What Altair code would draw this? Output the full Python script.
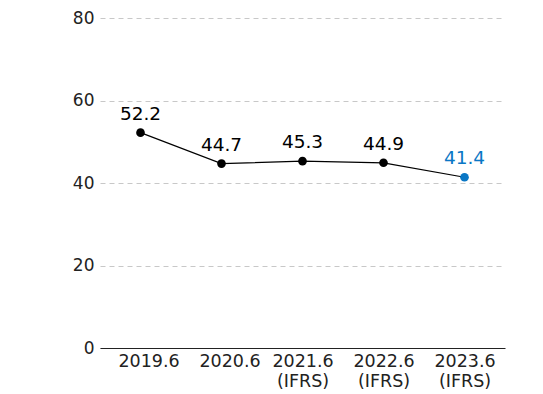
import altair as alt
import pandas as pd

periods = ["2019.6", "2020.6", "2021.6 (IFRS)", "2022.6 (IFRS)", "2023.6 (IFRS)"]
values = [52.2, 44.7, 45.3, 44.9, 41.4]
y_ticks = [0, 20, 40, 60, 80]

df = pd.DataFrame({"period": periods, "value": values})
FONT = "DejaVu Sans"
BLUE = "#0a77c5"

x = alt.X("period:N", sort=periods, title=None,
          scale=alt.Scale(paddingInner=0, paddingOuter=0),
          axis=alt.Axis(labelExpr="split(datum.value, ' ')", labelAngle=0,
                        labelFontSize=17.5, labelColor="#222", labelFont=FONT,
                        labelOffset=alt.ExprRef("indexof(datum.value, ' ') < 0 ? 8 : 0"),
                        labelPadding=4, labelLineHeight=20, ticks=False,
                        domainColor="#222", domainWidth=1.2, grid=False))
y = alt.Y("value:Q", title=None,
          scale=alt.Scale(domain=[0, 80]),
          axis=alt.Axis(values=y_ticks, labelFontSize=17, labelColor="#222", labelFont=FONT,
                        labelPadding=6, ticks=False, domain=False,
                        gridDash=[5, 4], gridColor="#c8c8c8", gridWidth=1))

color = alt.condition(alt.datum.period == periods[-1], alt.value(BLUE), alt.value("black"))

base = alt.Chart(df).encode(x=x, y=y)
line = base.mark_line(color="black", strokeWidth=1.2)
pts = base.mark_circle(size=75, opacity=1).encode(color=color)
labels = base.mark_text(baseline="alphabetic", dy=-13, fontSize=18.5, font=FONT).encode(
    text=alt.Text("value:Q", format=".1f"), color=color)

chart = (line + pts + labels).properties(
    width=405, height=330,
    autosize=alt.AutoSizeParams(type="none"),
    padding={"left": 92, "top": 10, "right": 30, "bottom": 46},
).configure_view(stroke=None)

chart.save("out.html", embed_options={"renderer": "svg", "actions": False})
